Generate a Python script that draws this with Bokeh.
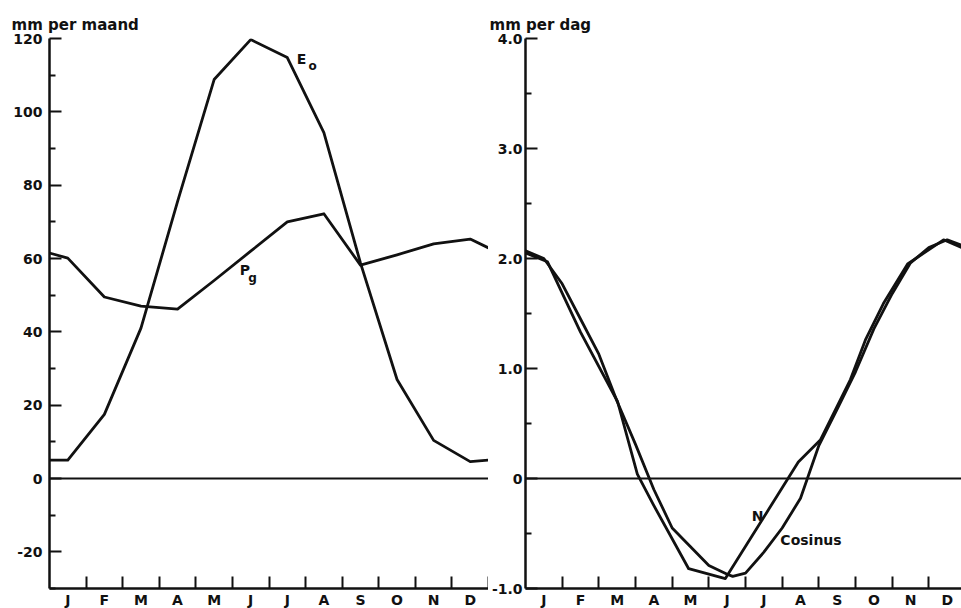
from bokeh.plotting import figure
from bokeh.layouts import row
from bokeh.models import FixedTicker, Span, Range1d
from bokeh.core.properties import value
from bokeh.embed import file_html
from bokeh.resources import INLINE

# ---------------- data ----------------
months = ["J", "F", "M", "A", "M", "J", "J", "A", "S", "O", "N", "D"]
month_centers = [0.5, 1.5, 2.5, 3.5, 4.5, 5.5, 6.5, 7.5, 8.5, 9.5, 10.5, 11.5]
month_bounds = [1, 2, 3, 4, 5, 6, 7, 8, 9, 10, 11, 12]

# left panel: mm per maand (x = month position, ends wrap to year edges)
left_x = [0.0, 0.5, 1.5, 2.5, 3.5, 4.5, 5.5, 6.5, 7.5, 8.5, 9.5, 10.5, 11.5, 12.0]
eo_values = [5.0, 5.0, 17.5, 41.0, 75.5, 108.8, 119.7, 114.8, 94.3, 58.8, 27.0, 10.4, 4.6, 5.0]
pg_values = [61.5, 60.1, 49.5, 47.0, 46.2, 54.0, 62.0, 70.0, 72.2, 58.2, 61.0, 64.0, 65.3, 62.9]

left_yticks = [-20, 0, 20, 40, 60, 80, 100, 120]
left_yminor = [-30, -10, 10, 30, 50, 70, 90, 110]

# right panel: mm per dag
n_x = [0.0, 0.6, 1.5, 2.51, 3.05, 3.49, 4.45, 5.45, 7.44, 8.04, 8.86, 9.27, 9.76, 10.42, 11.4, 11.89]
n_values = [2.05, 1.97, 1.33, 0.70, 0.04, -0.24, -0.82, -0.91, 0.15, 0.35, 0.90, 1.26, 1.59, 1.95, 2.17, 2.10]

cos_x = [0.0, 0.5, 1.0, 1.5, 2.0, 2.5, 3.0, 3.5, 4.0, 4.5, 5.0, 5.5, 5.65, 6.0,
         6.5, 7.0, 7.5, 8.0, 8.5, 9.0, 9.5, 10.0, 10.5, 11.0, 11.5, 11.89]
cos_values = [2.07, 2.00, 1.77, 1.45, 1.13, 0.70, 0.31, -0.10, -0.45, -0.62, -0.79, -0.87, -0.89, -0.86,
              -0.67, -0.45, -0.18, 0.30, 0.63, 0.97, 1.36, 1.68, 1.96, 2.10, 2.17, 2.12]

right_yticks = [-1.0, 0.0, 1.0, 2.0, 3.0, 4.0]
right_ylabels = ["-1.0", "0", "1.0", "2.0", "3.0", "4.0"]
right_yminor = [-0.5, 0.5, 1.5, 2.5, 3.5]

FONT = "DejaVu Sans"
INK = "#111111"


def style_axes(p, yticks, yminor, ylabels, ystandoff):
    p.outline_line_color = None
    p.grid.visible = False
    p.background_fill_color = "white"
    p.border_fill_color = "white"

    xa = p.xaxis[0]
    xa.ticker = FixedTicker(ticks=month_centers, minor_ticks=month_bounds)
    xa.major_label_overrides = {c: m for c, m in zip(month_centers, months)}
    xa.major_tick_in = 0
    xa.major_tick_out = 0
    xa.minor_tick_in = 12
    xa.minor_tick_out = 0
    xa.minor_tick_line_width = 2
    xa.minor_tick_line_color = INK
    xa.axis_line_width = 2.5
    xa.axis_line_color = INK
    xa.major_label_standoff = 3
    xa.major_label_text_font = FONT
    xa.major_label_text_font_size = "14px"
    xa.major_label_text_font_style = "bold"
    xa.major_label_text_color = INK

    ya = p.yaxis[0]
    ya.ticker = FixedTicker(ticks=yticks, minor_ticks=yminor)
    ya.major_label_overrides = {t: l for t, l in zip(yticks, ylabels)}
    ya.major_tick_in = 12
    ya.major_tick_out = 0
    ya.minor_tick_in = 6
    ya.minor_tick_out = 0
    ya.major_tick_line_width = 2
    ya.minor_tick_line_width = 2
    ya.major_tick_line_color = INK
    ya.minor_tick_line_color = INK
    ya.axis_line_width = 2.5
    ya.axis_line_color = INK
    ya.major_label_standoff = ystandoff
    ya.major_label_text_font = FONT
    ya.major_label_text_font_size = "14px"
    ya.major_label_text_font_style = "bold"
    ya.major_label_text_color = INK

    p.add_layout(Span(location=0, dimension="width", line_color=INK, line_width=2))


def style_title(p, offset):
    p.title.align = "left"
    p.title.offset = offset
    p.title.text_font = FONT
    p.title.text_font_size = "15px"
    p.title.text_font_style = "bold"
    p.title.text_color = INK


def label(p, x, y, txt, size="14px", align="center"):
    p.text(x=[x], y=[y], text=[txt], text_font=value(FONT), text_font_size=size,
           text_font_style="bold", text_color=INK, text_align=align, text_baseline="middle")


# ---------------- left panel ----------------
p1 = figure(frame_width=439, frame_height=550, output_backend="svg", toolbar_location=None,
            x_range=Range1d(0, 12), y_range=Range1d(-30, 120),
            min_border_left=49, min_border_right=0, min_border_top=38, min_border_bottom=20,
            title="mm per maand")
style_title(p1, -38)
style_axes(p1, left_yticks, left_yminor, [str(t) for t in left_yticks], 7)

p1.line(left_x, eo_values, line_color=INK, line_width=2.8, line_join="round")
p1.line(left_x, pg_values, line_color=INK, line_width=2.8, line_join="round")

label(p1, 6.89, 114.3, "E")
label(p1, 7.19, 112.6, "o", size="12px")
label(p1, 5.34, 57.0, "P")
label(p1, 5.55, 54.8, "g", size="12px")

# ---------------- right panel ----------------
p2 = figure(frame_width=436, frame_height=550, output_backend="svg", toolbar_location=None,
            x_range=Range1d(0, 11.89), y_range=Range1d(-1.0, 4.0),
            min_border_left=37, min_border_right=0, min_border_top=37, min_border_bottom=21,
            title="mm per dag")
style_title(p2, -36)
style_axes(p2, right_yticks, right_yminor, right_ylabels, 3)

p2.line(n_x, n_values, line_color=INK, line_width=2.8, line_join="round")
p2.line(cos_x, cos_values, line_color=INK, line_width=2.8, line_join="round")

label(p2, 6.33, -0.34, "N")
label(p2, 6.95, -0.555, "Cosinus", align="left")

layout = row(p1, p2)
open("out.html", "w").write(file_html(layout, INLINE))
